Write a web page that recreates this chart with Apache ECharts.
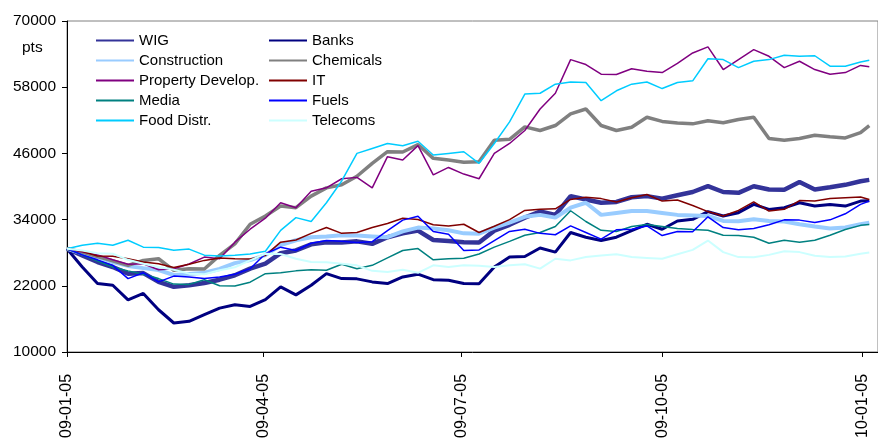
<!DOCTYPE html>
<html>
<head>
<meta charset="utf-8">
<script src="https://cdn.jsdelivr.net/npm/echarts@6/dist/echarts.min.js"></script>
<style>
  html, body { margin: 0; padding: 0; background: #ffffff; }
  #chart { width: 878px; height: 441px; }
</style>
</head>
<body>
<div id="chart"></div>
<script>
// Weekly closing dates (Mondays) plus the last session shown
const dates = [
  '2009-01-05','2009-01-12','2009-01-19','2009-01-26','2009-02-02','2009-02-09','2009-02-16','2009-02-23',
  '2009-03-02','2009-03-09','2009-03-16','2009-03-23','2009-03-30','2009-04-06','2009-04-13','2009-04-20',
  '2009-04-27','2009-05-04','2009-05-11','2009-05-18','2009-05-25','2009-06-01','2009-06-08','2009-06-15',
  '2009-06-22','2009-06-29','2009-07-06','2009-07-13','2009-07-20','2009-07-27','2009-08-03','2009-08-10',
  '2009-08-17','2009-08-24','2009-08-31','2009-09-07','2009-09-14','2009-09-21','2009-09-28','2009-10-05',
  '2009-10-12','2009-10-19','2009-10-26','2009-11-02','2009-11-09','2009-11-16','2009-11-23','2009-11-30',
  '2009-12-07','2009-12-14','2009-12-21','2009-12-28','2010-01-04','2010-01-08'
];

// Index levels (pts), sector indices rebased to WIG at the start
const wig = [28700,27500,26300,25400,24200,24300,22700,21800,22100,22500,23100,23900,25100,26000,27900,28400,29500,29900,29850,30050,29600,30800,31500,32000,30300,30100,29900,29850,32000,33050,34350,35450,34850,38250,37650,37050,37200,38050,38250,37800,38400,39000,40050,39000,38850,40050,39450,39400,40800,39450,39850,40300,40950,41200];
const banks = [28700,25400,22400,22100,19450,20600,17650,15250,15550,16750,17950,18550,18250,19500,21800,20350,22100,24200,23300,23250,22700,22400,23600,24100,23100,23000,22400,22350,25400,27200,27300,28850,28100,31650,30800,30200,30800,32000,33150,32250,33750,34050,35450,34650,35250,36750,35850,36150,37050,36450,36750,36450,37350,37400];
const construction = [28700,27900,27200,26300,25600,25200,24850,23950,24150,24350,25050,26100,26650,27550,29350,30250,30800,30950,31150,31100,30950,30800,31850,32550,32400,32050,31500,31450,32550,33450,34500,34850,34350,36150,37050,34850,35200,35550,35550,35200,34850,34750,34650,33750,33700,34050,33750,33650,33150,32750,32400,32550,33150,33450];
const chemicals = [28700,28100,27300,26500,25700,26600,26900,24800,25100,25050,27500,29600,33150,34650,36450,36150,38250,39750,40300,41850,44200,46300,46250,47600,45100,44800,44400,44500,48400,48550,50800,50150,51050,53150,54050,51050,50150,50750,52550,51800,51500,51350,51900,51550,52150,52550,48700,48400,48700,49300,49000,48800,49750,51050];
const propertyDev = [28700,28100,27600,26700,25900,26000,24900,25100,25950,27200,26900,29900,32250,34250,37050,36150,39150,39750,41400,41650,39750,45400,44800,47400,42100,43450,42250,41400,46000,47800,50150,54050,56900,63000,62100,60350,60300,61350,60900,60650,62300,64200,65300,61200,63000,64800,63600,61550,62700,61200,60350,60650,61950,61700];
const it = [28700,28250,27400,27350,26900,26300,26000,25300,25900,26600,27050,26900,26850,27500,29900,30300,31500,32550,31500,31650,32550,33300,34250,34000,33050,32850,33150,31650,32800,34000,35650,35850,35950,37650,38050,37800,37200,37950,38550,37350,37550,36550,35450,34650,35650,37200,35550,35850,37450,37350,37800,37950,38100,37650];
const media = [28700,27600,26500,25400,24700,24100,23300,22300,22250,23100,22000,21950,22650,24200,24350,24700,24900,24800,25900,25100,25700,27050,28400,28750,26700,26900,27000,27750,29000,30050,31150,31650,32750,35600,33650,32050,31850,32750,33100,32750,32400,32200,32050,31150,31100,30800,29700,30250,29900,30250,31150,32200,32950,33100];
const fuels = [28700,27600,26700,25700,23300,24350,22700,23750,23600,23300,23600,24100,25100,27800,29000,28400,29700,30200,30050,29850,30000,32000,33900,34600,31850,31350,28400,28500,30200,31850,32250,31500,31250,32850,31650,30450,32150,32250,32850,31100,31850,31800,34500,32550,32150,32400,33050,33950,33900,33450,33950,35050,36750,37350];
const foodDistr = [28700,29350,29700,29350,30250,29000,28950,28450,28650,27550,27400,27550,27750,28250,32050,34350,33650,37050,41000,46000,46900,47800,47400,48200,45700,46000,46300,44200,47800,51700,56750,56900,58550,58950,58850,55550,57350,58550,58950,57750,58850,59150,63150,63000,61550,62700,63000,63800,63600,63700,61800,61800,62550,62900];
const telecoms = [28700,28400,27900,27800,26700,26000,25400,24900,24200,24100,24800,25350,26600,27800,27750,26900,26300,26250,26000,25700,24700,24500,24900,24350,25700,25400,25700,25650,25400,25700,25900,25100,26900,26600,27200,27500,27700,27200,27050,26900,27700,28500,30200,28100,27200,27150,27600,28250,28100,27450,27200,27300,27800,28050];

// Axis ticks
const dateTicks = ['2009-01-05','2009-04-05','2009-07-05','2009-10-05','2010-01-05'];
const yTicks = [10000, 22000, 34000, 46000, 58000, 70000];

const FONT = 'Arial, "Liberation Sans", sans-serif';

function ts(s) {
  const p = s.split('-').map(Number);
  return Date.UTC(p[0], p[1] - 1, p[2]);
}
function pad(n) { return (n < 10 ? '0' : '') + n; }
function fmtDate(v) {
  const d = new Date(v);
  return pad(d.getUTCFullYear() % 100) + '-' + pad(d.getUTCMonth() + 1) + '-' + pad(d.getUTCDate());
}

const seriesDefs = [
  { name: 'WIG', data: wig, color: '#333399', width: 4.5 },
  { name: 'Banks', data: banks, color: '#000080', width: 3 },
  { name: 'Construction', data: construction, color: '#99CCFF', width: 4 },
  { name: 'Chemicals', data: chemicals, color: '#808080', width: 3.5 },
  { name: 'Property Develop.', data: propertyDev, color: '#800080', width: 1.5 },
  { name: 'IT', data: it, color: '#800000', width: 1.5 },
  { name: 'Media', data: media, color: '#008080', width: 1.5 },
  { name: 'Fuels', data: fuels, color: '#0000FF', width: 1.5 },
  { name: 'Food Distr.', data: foodDistr, color: '#00CCFF', width: 1.5 },
  { name: 'Telecoms', data: telecoms, color: '#CCFFFF', width: 2 }
];

const series = seriesDefs.map(s => ({
  name: s.name,
  type: 'line',
  showSymbol: false,
  symbol: 'none',
  animation: false,
  color: s.color,
  lineStyle: { color: s.color, width: s.width },
  data: s.data.map((v, i) => [ts(dates[i]), v])
}));

// Legend keys are plain line samples (no marker)
const legendCommon = {
  orient: 'vertical',
  top: 33,
  padding: 0,
  itemWidth: 38,
  itemHeight: 14,
  itemGap: 5,
  itemStyle: { opacity: 0, borderWidth: 0 },
  textStyle: { fontFamily: FONT, fontSize: 15, color: '#000', lineHeight: 14 }
};

const chart = echarts.init(document.getElementById('chart'), null, { renderer: 'canvas' });
chart.setOption({
  animation: false,
  backgroundColor: '#ffffff',
  title: {
    text: 'pts',
    left: 22, top: 40,
    padding: 0,
    textStyle: { fontFamily: FONT, fontSize: 15.5, fontWeight: 'normal', color: '#000' }
  },
  legend: [
    Object.assign({}, legendCommon, { left: 95, data: ['WIG', 'Construction', 'Property Develop.', 'Media', 'Food Distr.'] }),
    Object.assign({}, legendCommon, { left: 268, data: ['Banks', 'Chemicals', 'IT', 'Fuels', 'Telecoms'] })
  ],
  grid: {
    left: 67, right: -4, top: 21, bottom: 85,
    show: true, borderColor: '#808080', borderWidth: 1
  },
  xAxis: {
    type: 'value',
    min: ts('2009-01-05'),
    max: ts('2010-01-12'),
    axisLine: { lineStyle: { color: '#000', width: 1 } },
    axisTick: { show: true, length: 5, lineStyle: { color: '#000' }, customValues: dateTicks.map(ts) },
    axisLabel: {
      rotate: 90, margin: 22, color: '#000', fontFamily: FONT, fontSize: 16,
      customValues: dateTicks.map(ts), formatter: fmtDate
    },
    splitLine: { show: false }
  },
  yAxis: {
    type: 'value',
    min: yTicks[0], max: yTicks[yTicks.length - 1], interval: 12000,
    axisLine: { show: true, lineStyle: { color: '#000', width: 1 } },
    axisTick: { show: true, length: 5, lineStyle: { color: '#000' } },
    axisLabel: { margin: 11, color: '#000', fontFamily: FONT, fontSize: 15.5, formatter: v => String(v) },
    splitLine: { show: false }
  },
  series: series
});
</script>
</body>
</html>
